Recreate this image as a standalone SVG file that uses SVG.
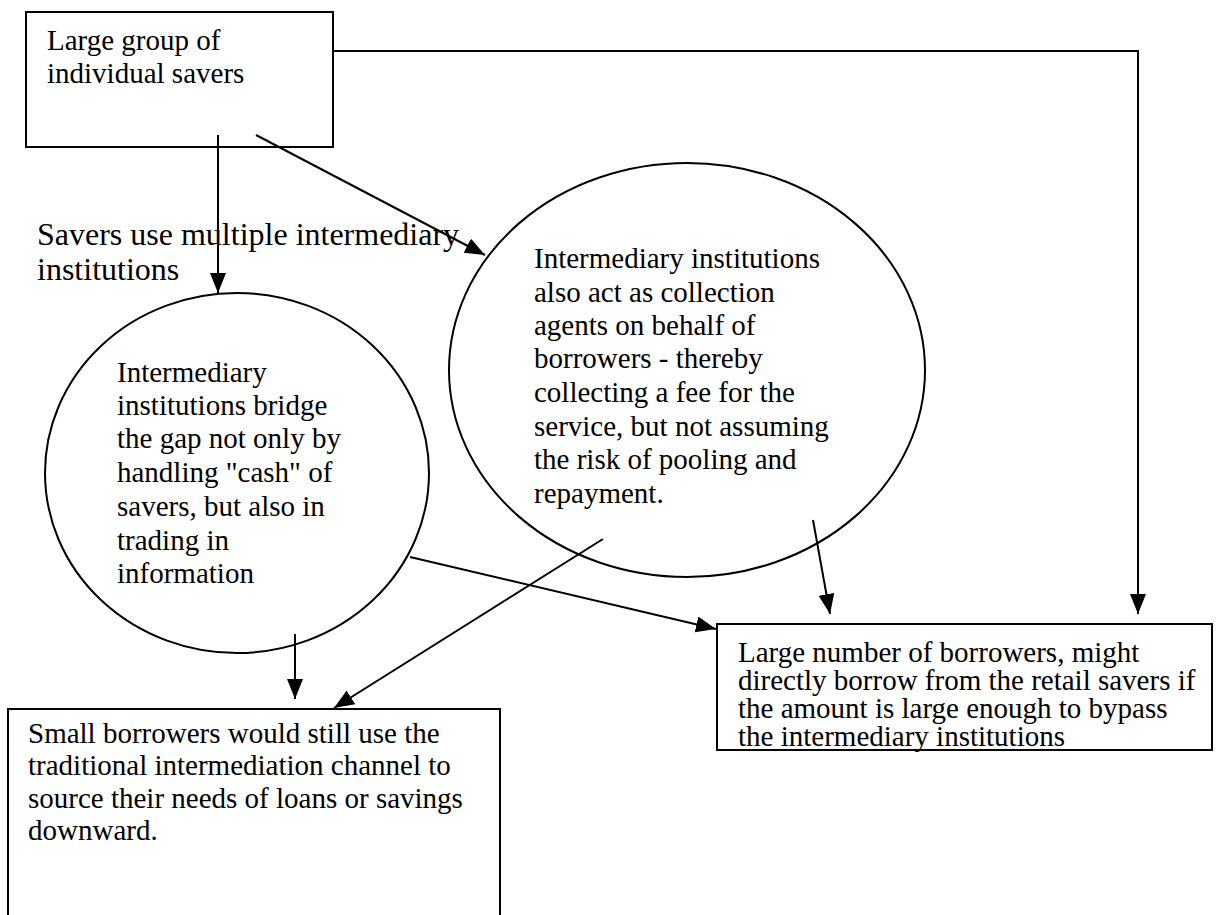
<svg xmlns="http://www.w3.org/2000/svg" width="1227" height="915" viewBox="0 0 1227 915">
<style>
.box{fill:#fff;stroke:#000;stroke-width:2}
.ell{fill:#fff;stroke:#000;stroke-width:2}
.t{font-family:"Liberation Serif","Times New Roman",serif;font-size:29px;fill:#000}
.lbl{font-family:"Liberation Serif","Times New Roman",serif;font-size:32px;fill:#000}
.c{fill:none;stroke:#000;stroke-width:2}
</style>
<defs>
<marker id="ah" markerUnits="userSpaceOnUse" markerWidth="22" markerHeight="18" refX="20" refY="8" orient="auto">
<path d="M0,0 L20,8 L0,16 z" fill="#000"/>
</marker>
</defs>
<rect width="1227" height="915" fill="#fff"/>
<g id="savers">
<rect class="box" x="26" y="12" width="307" height="135"/>
<text class="t" x="47" y="50">Large group of</text>
<text class="t" x="47" y="83">individual savers</text>
</g>
<g id="ellipse-left">
<ellipse class="ell" cx="237" cy="473" rx="192" ry="180"/>
<text class="t" x="117" y="382">Intermediary</text>
<text class="t" x="117" y="415">institutions bridge</text>
<text class="t" x="117" y="448">the gap not only by</text>
<text class="t" x="117" y="482">handling "cash" of</text>
<text class="t" x="117" y="516">savers, but also in</text>
<text class="t" x="117" y="550">trading in</text>
<text class="t" x="117" y="583">information</text>
</g>
<g id="ellipse-right">
<ellipse class="ell" cx="687" cy="370" rx="238" ry="207"/>
<text class="t" x="534" y="268">Intermediary institutions</text>
<text class="t" x="534" y="302">also act as collection</text>
<text class="t" x="534" y="335">agents on behalf of</text>
<text class="t" x="534" y="368">borrowers - thereby</text>
<text class="t" x="534" y="402">collecting a fee for the</text>
<text class="t" x="534" y="436">service, but not assuming</text>
<text class="t" x="534" y="469">the risk of pooling and</text>
<text class="t" x="534" y="503">repayment.</text>
</g>
<g id="label">
<text class="lbl" x="37" y="245">Savers use multiple intermediary</text>
<text class="lbl" x="37" y="280">institutions</text>
</g>
<g id="small-borrowers">
<rect class="box" x="8" y="709" width="492" height="220"/>
<text class="t" x="28" y="743">Small borrowers would still use the</text>
<text class="t" x="28" y="775">traditional intermediation channel to</text>
<text class="t" x="28" y="808">source their needs of loans or savings</text>
<text class="t" x="28" y="840">downward.</text>
</g>
<g id="large-borrowers">
<rect class="box" x="717" y="624" width="495" height="126"/>
<text class="t" x="738" y="662">Large number of borrowers, might</text>
<text class="t" x="738" y="690">directly borrow from the retail savers if</text>
<text class="t" x="738" y="718">the amount is large enough to bypass</text>
<text class="t" x="738" y="746">the intermediary institutions</text>
</g>
<g id="connectors">
<line class="c" x1="218" y1="135" x2="218" y2="293" marker-end="url(#ah)"/>
<line class="c" x1="256" y1="135" x2="485" y2="255" marker-end="url(#ah)"/>
<polyline class="c" points="333,51 1138,51 1138,614" marker-end="url(#ah)"/>
<line class="c" x1="813" y1="520" x2="830" y2="614" marker-end="url(#ah)"/>
<line class="c" x1="410" y1="557" x2="716" y2="629" marker-end="url(#ah)"/>
<line class="c" x1="603" y1="539" x2="334" y2="708" marker-end="url(#ah)"/>
<line class="c" x1="295" y1="634" x2="295" y2="699" marker-end="url(#ah)"/>
</g>
</svg>
